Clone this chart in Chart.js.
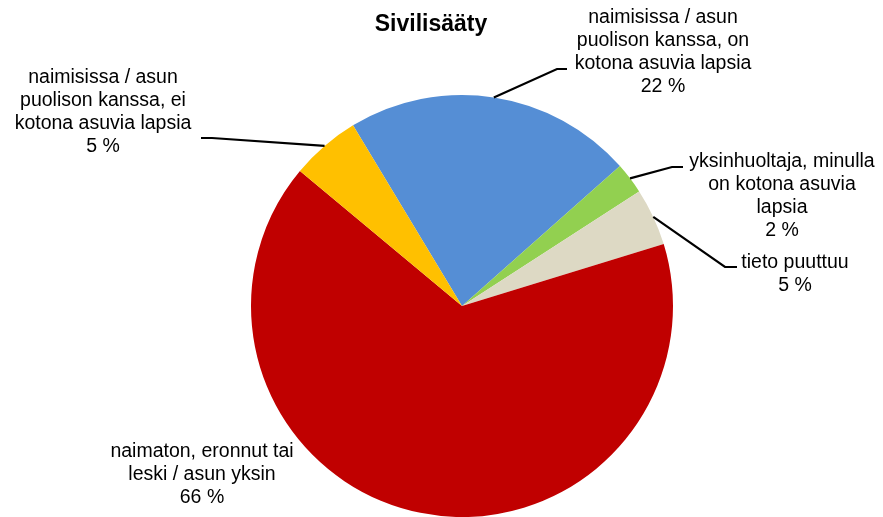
<!DOCTYPE html>
<html lang="fi">
<head>
  <meta charset="UTF-8">
  <title>Sivilisääty</title>
  <script src="https://cdn.jsdelivr.net/npm/chart.js"></script>
  <style>
    body { margin: 0; background: #fff; }
    #wrap { width: 883px; height: 517px; }
  </style>
</head>
<body>
  <div id="wrap"><canvas id="kaavio" width="883" height="517"></canvas></div>

  <script>
    // data luettu kuvasta
    const otsikko = "Sivilisääty";
    const luokat = [
      ["naimisissa / asun", "puolison kanssa, on", "kotona asuvia lapsia"],
      ["yksinhuoltaja, minulla", "on kotona asuvia", "lapsia"],
      ["tieto puuttuu"],
      ["naimaton, eronnut tai", "leski / asun yksin"],
      ["naimisissa / asun", "puolison kanssa, ei", "kotona asuvia lapsia"]
    ];
    const osuudet = [22.1, 2.4, 4.4, 65.8, 5.3];
    const prosentit = ["22 %", "2 %", "5 %", "66 %", "5 %"];
    const varit = ["#558ED5", "#92D050", "#DDD9C4", "#C00000", "#FFC000"];

    // selitteiden paikat: tekstin keskikohta (x, ensimmäisen rivin y) ja viivan kulma
    const selitePaikat = [
      { x: 663, y: 18, viiva: [[557, 69], [567, 69]] },
      { x: 782, y: 162, viiva: [[672, 167], [683, 167]] },
      { x: 795, y: 263, viiva: [[725, 267], [737, 267]] },
      { x: 202, y: 452, viiva: null },
      { x: 103, y: 78, viiva: [[212, 138], [201, 138]] }
    ];

    const selitteet = {
      id: 'selitteet',
      afterDraw(chart) {
        const ctx = chart.ctx;
        ctx.save();
        ctx.fillStyle = '#000';
        ctx.textAlign = 'center';
        ctx.textBaseline = 'middle';
        ctx.font = 'bold 23px "Liberation Sans", Arial, sans-serif';
        ctx.fillText(otsikko, 431, 25);

        ctx.font = '19.5px "Liberation Sans", Arial, sans-serif';
        const kaaret = chart.getDatasetMeta(0).data;
        kaaret.forEach((kaari, i) => {
          const p = selitePaikat[i];
          const rivit = luokat[i].concat([prosentit[i]]);
          rivit.forEach((r, j) => ctx.fillText(r, p.x, p.y + j * 23));
          if (p.viiva) {
            const kulma = (kaari.startAngle + kaari.endAngle) / 2;
            const r = kaari.outerRadius;
            ctx.beginPath();
            ctx.moveTo(kaari.x + Math.cos(kulma) * r, kaari.y + Math.sin(kulma) * r);
            ctx.lineTo(p.viiva[0][0], p.viiva[0][1]);
            ctx.lineTo(p.viiva[1][0], p.viiva[1][1]);
            ctx.lineWidth = 2.2;
            ctx.strokeStyle = '#000';
            ctx.stroke();
          }
        });
        ctx.restore();
      }
    };

    new Chart(document.getElementById('kaavio'), {
      type: 'pie',
      data: {
        labels: luokat.map(l => l.join(' ')),
        datasets: [{
          data: osuudet,
          backgroundColor: varit,
          borderWidth: 0
        }]
      },
      options: {
        responsive: false,
        animation: false,
        rotation: -31.1,
        layout: { padding: { top: 95, bottom: 0, left: 251, right: 210 } },
        plugins: {
          legend: { display: false },
          tooltip: { enabled: false },
          title: { display: false }
        }
      },
      plugins: [selitteet]
    });
  </script>
</body>
</html>
